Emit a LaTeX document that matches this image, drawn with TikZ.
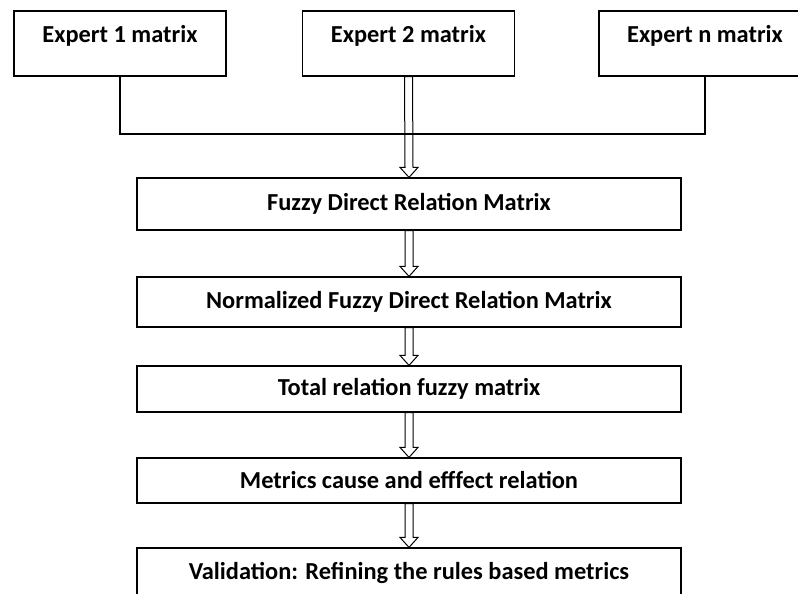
\documentclass[tikz,border=0pt]{standalone}
\usepackage{fontspec}
\setmainfont{Carlito}
\usetikzlibrary{calc}
\tikzset{
  boxtext/.style={font=\fontsize{24.4}{28}\selectfont\bfseries},
  expertbox/.style={boxtext, draw, line width=1.2pt, minimum width=212pt, inner xsep=0pt,
    inner ysep=10pt, text height=22pt, text depth=23pt},
  stepbox/.style={boxtext, draw, line width=1.2pt, minimum width=544pt, inner sep=0pt},
  busline/.style={line width=1.2pt},
  arrowline/.style={line width=1pt, line join=miter}
}
% to draw hollow arrow between two boxes
\newcommand\hollowarrow[2]{%
  \draw [arrowline] ($(#1.south)+(-4,0)$) -- ($(#2.north)+(-4,10)$) -- ($(#2.north)+(-9,10)$)
    -- (#2.north) -- ($(#2.north)+(9,10)$) -- ($(#2.north)+(4,10)$) -- ($(#1.south)+(4,0)$) -- cycle;}

\begin{document}
\begin{tikzpicture}[x=1pt,y=1pt]
\useasboundingbox (0,0) rectangle (798,594);
\clip (0,0) rectangle (798,594);

% to write experts
\node [expertbox] (exp1) at (120,550.5) {Expert 1 matrix};
\node [expertbox] (exp2) at (408.5,550.5) {Expert 2 matrix};
\node [expertbox] (expn) at (705,550.5) {Expert n matrix};

% to draw the joining line
\coordinate (bus) at (0,460);
\draw [busline] (exp1.south) -- (exp1.south |- bus) -- (expn.south |- bus) -- (expn.south);

% to write steps
\node [stepbox, minimum height=52pt] (fdrm) at (409,390) {Fuzzy Direct Relation Matrix};
\node [stepbox, minimum height=50pt] (nfdrm) at (409,292) {Normalized Fuzzy Direct Relation Matrix};
\node [stepbox, minimum height=46pt] (total) at (409,205) {Total relation fuzzy matrix};
\node [stepbox, minimum height=45pt] (cause) at (409,113.5) {Metrics cause and efffect relation};
\node [stepbox, minimum height=50pt] (valid) at (409,21) {Validation: Refining the rules based metrics};

% to draw hollow arrows
\hollowarrow{exp2}{fdrm}
\hollowarrow{fdrm}{nfdrm}
\hollowarrow{nfdrm}{total}
\hollowarrow{total}{cause}
\hollowarrow{cause}{valid}
\end{tikzpicture}
\end{document}
